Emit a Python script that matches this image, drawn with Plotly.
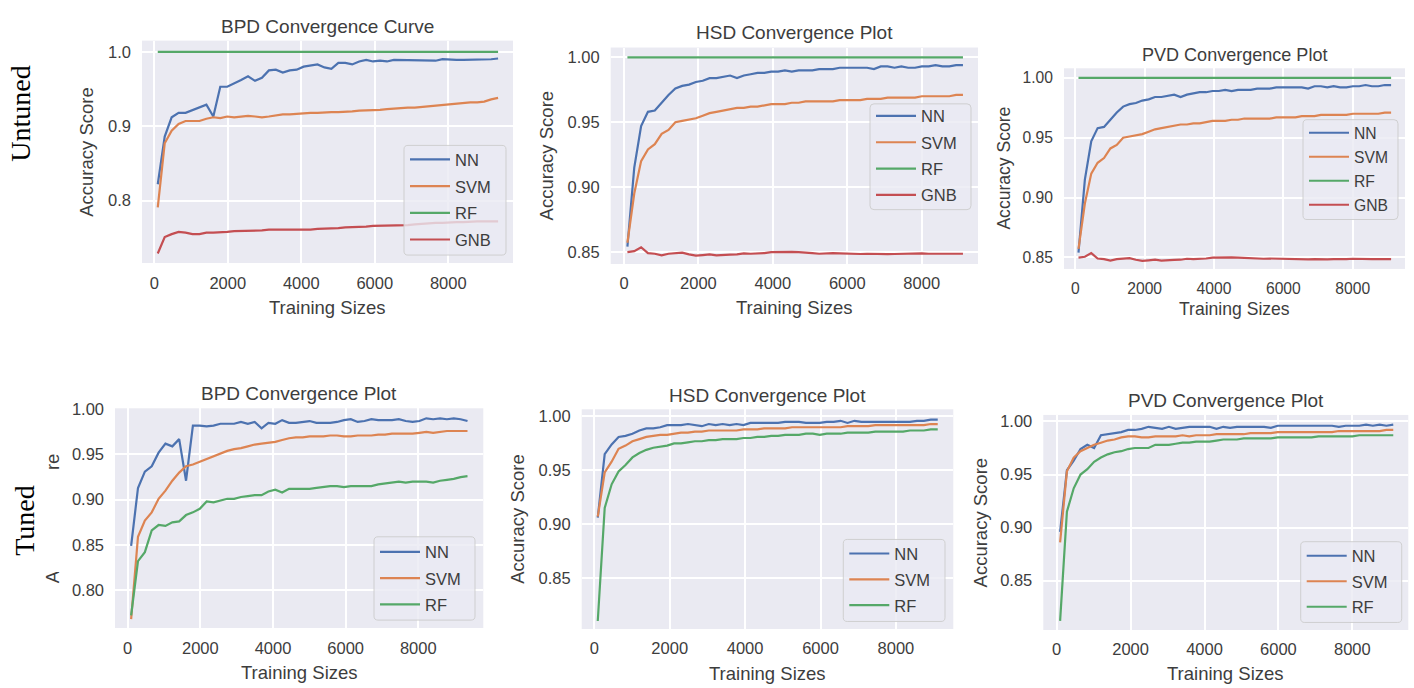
import plotly.graph_objects as go

W, H = 1414, 688

# ---------------- data ----------------
bpd_sizes = [94, 283, 472, 661, 850, 1039, 1228, 1417, 1606, 1795,
             1984, 2173, 2362, 2551, 2740, 2929, 3118, 3307, 3496, 3685,
             3874, 4063, 4252, 4441, 4630, 4819, 5008, 5197, 5386, 5575,
             5764, 5953, 6142, 6331, 6520, 6709, 6898, 7087, 7276, 7465,
             7654, 7843, 8032, 8221, 8410, 8599, 8788, 8977, 9166, 9355]

hsd_sizes = [92, 276, 460, 644, 828, 1012, 1196, 1380, 1564, 1748,
             1932, 2116, 2300, 2484, 2668, 2852, 3036, 3220, 3404, 3588,
             3772, 3956, 4140, 4324, 4508, 4692, 4876, 5060, 5244, 5428,
             5612, 5796, 5980, 6164, 6348, 6532, 6716, 6900, 7084, 7268,
             7452, 7636, 7820, 8004, 8188, 8372, 8556, 8740, 8924, 9108]

# Untuned BPD
bpd_nn = [0.822, 0.886, 0.912, 0.918, 0.918, 0.922, 0.925, 0.929, 0.913, 0.953,
          0.953, 0.957, 0.962, 0.967, 0.961, 0.965, 0.975, 0.976, 0.972, 0.975,
          0.976, 0.980, 0.982, 0.983, 0.979, 0.977, 0.985, 0.985, 0.983, 0.987,
          0.989, 0.987, 0.988, 0.987, 0.989, 0.989, 0.989, 0.989, 0.988, 0.988,
          0.988, 0.990, 0.989, 0.989, 0.989, 0.989, 0.989, 0.990, 0.990, 0.991]
bpd_svm = [0.791, 0.877, 0.894, 0.903, 0.907, 0.907, 0.907, 0.910, 0.912, 0.911,
           0.913, 0.912, 0.913, 0.914, 0.913, 0.912, 0.913, 0.915, 0.916, 0.916,
           0.917, 0.917, 0.918, 0.918, 0.919, 0.919, 0.919, 0.920, 0.920, 0.921,
           0.921, 0.922, 0.922, 0.923, 0.924, 0.924, 0.925, 0.925, 0.926, 0.927,
           0.928, 0.929, 0.930, 0.930, 0.931, 0.932, 0.932, 0.933, 0.936, 0.938]
bpd_rf = [1.0, 1.0, 1.0, 1.0, 1.0, 1.0, 1.0, 1.0, 1.0, 1.0,
          1.0, 1.0, 1.0, 1.0, 1.0, 1.0, 1.0, 1.0, 1.0, 1.0,
          1.0, 1.0, 1.0, 1.0, 1.0, 1.0, 1.0, 1.0, 1.0, 1.0,
          1.0, 1.0, 1.0, 1.0, 1.0, 1.0, 1.0, 1.0, 1.0, 1.0,
          1.0, 1.0, 1.0, 1.0, 1.0, 1.0, 1.0, 1.0, 1.0, 1.0]
bpd_gnb = [0.729, 0.751, 0.755, 0.758, 0.757, 0.755, 0.755, 0.757, 0.757, 0.758,
           0.758, 0.759, 0.759, 0.760, 0.760, 0.760, 0.761, 0.761, 0.760, 0.761,
           0.760, 0.760, 0.761, 0.762, 0.762, 0.763, 0.763, 0.764, 0.764, 0.765,
           0.765, 0.766, 0.766, 0.766, 0.767, 0.767, 0.767, 0.768, 0.769, 0.769,
           0.770, 0.770, 0.771, 0.771, 0.771, 0.772, 0.772, 0.772, 0.772, 0.772]

# Untuned HSD / PVD (identical runs)
hsd_nn = [0.854, 0.915, 0.947, 0.958, 0.959, 0.965, 0.971, 0.976, 0.978, 0.979,
          0.981, 0.982, 0.984, 0.984, 0.985, 0.986, 0.984, 0.986, 0.987, 0.988,
          0.988, 0.989, 0.989, 0.990, 0.989, 0.990, 0.990, 0.990, 0.991, 0.991,
          0.991, 0.992, 0.992, 0.992, 0.992, 0.992, 0.991, 0.993, 0.993, 0.992,
          0.993, 0.992, 0.992, 0.993, 0.993, 0.994, 0.993, 0.993, 0.994, 0.994]
hsd_svm = [0.857, 0.895, 0.920, 0.929, 0.933, 0.941, 0.944, 0.950, 0.951, 0.952,
           0.953, 0.955, 0.957, 0.958, 0.959, 0.960, 0.961, 0.961, 0.962, 0.962,
           0.963, 0.964, 0.964, 0.964, 0.965, 0.965, 0.966, 0.966, 0.966, 0.966,
           0.966, 0.967, 0.967, 0.967, 0.967, 0.968, 0.968, 0.968, 0.969, 0.969,
           0.969, 0.969, 0.969, 0.970, 0.970, 0.970, 0.970, 0.970, 0.971, 0.971]
hsd_rf = [1.0, 1.0, 1.0, 1.0, 1.0, 1.0, 1.0, 1.0, 1.0, 1.0,
          1.0, 1.0, 1.0, 1.0, 1.0, 1.0, 1.0, 1.0, 1.0, 1.0,
          1.0, 1.0, 1.0, 1.0, 1.0, 1.0, 1.0, 1.0, 1.0, 1.0,
          1.0, 1.0, 1.0, 1.0, 1.0, 1.0, 1.0, 1.0, 1.0, 1.0,
          1.0, 1.0, 1.0, 1.0, 1.0, 1.0, 1.0, 1.0, 1.0, 1.0]
hsd_gnb = [0.8498, 0.8505, 0.8535, 0.8490, 0.8485, 0.8473, 0.8485, 0.8490, 0.8493, 0.8480,
           0.8470, 0.8475, 0.8480, 0.8473, 0.8473, 0.8478, 0.8480, 0.8488, 0.8485, 0.8485,
           0.8490, 0.8498, 0.8500, 0.8497, 0.8500, 0.8497, 0.8495, 0.8490, 0.8485, 0.8488,
           0.8490, 0.8488, 0.8485, 0.8485, 0.8483, 0.8485, 0.8483, 0.8485, 0.8482, 0.8483,
           0.8485, 0.8483, 0.8485, 0.8488, 0.8485, 0.8483, 0.8485, 0.8485, 0.8485, 0.8485]

# Tuned BPD
bpd_t_nn = [0.849, 0.913, 0.931, 0.937, 0.952, 0.962, 0.959, 0.967, 0.921, 0.982,
            0.982, 0.981, 0.982, 0.984, 0.984, 0.984, 0.986, 0.984, 0.986, 0.979,
            0.985, 0.984, 0.988, 0.985, 0.985, 0.986, 0.987, 0.985, 0.985, 0.985,
            0.986, 0.988, 0.989, 0.986, 0.987, 0.989, 0.988, 0.988, 0.988, 0.989,
            0.987, 0.986, 0.987, 0.990, 0.989, 0.990, 0.989, 0.990, 0.989, 0.987]
bpd_t_svm = [0.768, 0.859, 0.877, 0.886, 0.901, 0.910, 0.921, 0.930, 0.937, 0.939,
             0.942, 0.945, 0.948, 0.951, 0.954, 0.956, 0.957, 0.959, 0.961, 0.962,
             0.963, 0.964, 0.966, 0.968, 0.969, 0.969, 0.970, 0.970, 0.970, 0.971,
             0.971, 0.970, 0.970, 0.971, 0.971, 0.971, 0.972, 0.972, 0.973, 0.973,
             0.973, 0.973, 0.974, 0.975, 0.974, 0.975, 0.976, 0.976, 0.976, 0.976]
bpd_t_rf = [0.772, 0.832, 0.842, 0.866, 0.872, 0.871, 0.875, 0.876, 0.883, 0.886,
            0.890, 0.898, 0.897, 0.899, 0.901, 0.901, 0.903, 0.904, 0.905, 0.905,
            0.909, 0.911, 0.908, 0.912, 0.912, 0.912, 0.912, 0.913, 0.914, 0.915,
            0.915, 0.914, 0.915, 0.915, 0.915, 0.915, 0.917, 0.918, 0.919, 0.920,
            0.919, 0.920, 0.920, 0.920, 0.919, 0.921, 0.922, 0.923, 0.925, 0.926]

# Tuned HSD
hsd_t_nn = [0.906, 0.965, 0.974, 0.981, 0.982, 0.984, 0.987, 0.989, 0.989, 0.990,
            0.992, 0.992, 0.992, 0.993, 0.992, 0.991, 0.993, 0.992, 0.993, 0.992,
            0.993, 0.992, 0.994, 0.994, 0.994, 0.994, 0.994, 0.995, 0.995, 0.995,
            0.994, 0.994, 0.994, 0.995, 0.995, 0.996, 0.994, 0.996, 0.995, 0.995,
            0.995, 0.995, 0.995, 0.995, 0.995, 0.995, 0.996, 0.996, 0.997, 0.997]
hsd_t_svm = [0.907, 0.948, 0.958, 0.970, 0.973, 0.977, 0.979, 0.981, 0.982, 0.983,
             0.983, 0.984, 0.985, 0.985, 0.986, 0.986, 0.987, 0.987, 0.987, 0.987,
             0.987, 0.988, 0.988, 0.988, 0.989, 0.989, 0.989, 0.989, 0.990, 0.990,
             0.990, 0.990, 0.990, 0.990, 0.990, 0.990, 0.991, 0.991, 0.991, 0.991,
             0.992, 0.992, 0.992, 0.992, 0.992, 0.992, 0.992, 0.992, 0.993, 0.993]
hsd_t_rf = [0.810, 0.915, 0.937, 0.949, 0.955, 0.962, 0.966, 0.969, 0.971, 0.972,
            0.973, 0.975, 0.975, 0.976, 0.977, 0.977, 0.978, 0.978, 0.979, 0.979,
            0.979, 0.980, 0.980, 0.981, 0.981, 0.982, 0.982, 0.983, 0.983, 0.983,
            0.984, 0.984, 0.983, 0.984, 0.984, 0.984, 0.985, 0.985, 0.985, 0.985,
            0.986, 0.986, 0.986, 0.986, 0.986, 0.987, 0.987, 0.987, 0.988, 0.988]

# Tuned PVD
pvd_t_nn = [0.896, 0.954, 0.963, 0.974, 0.978, 0.975, 0.987, 0.988, 0.989, 0.990,
            0.992, 0.992, 0.993, 0.995, 0.994, 0.993, 0.995, 0.993, 0.994, 0.995,
            0.995, 0.995, 0.995, 0.993, 0.995, 0.994, 0.995, 0.995, 0.995, 0.995,
            0.995, 0.994, 0.996, 0.996, 0.996, 0.996, 0.996, 0.996, 0.996, 0.996,
            0.996, 0.995, 0.996, 0.996, 0.996, 0.997, 0.996, 0.997, 0.996, 0.997]
pvd_t_svm = [0.886, 0.953, 0.966, 0.972, 0.975, 0.978, 0.980, 0.982, 0.983, 0.985,
             0.986, 0.986, 0.985, 0.985, 0.986, 0.986, 0.986, 0.986, 0.987, 0.986,
             0.987, 0.987, 0.987, 0.988, 0.988, 0.988, 0.988, 0.988, 0.989, 0.989,
             0.989, 0.989, 0.990, 0.990, 0.990, 0.990, 0.990, 0.990, 0.990, 0.990,
             0.990, 0.991, 0.991, 0.991, 0.991, 0.991, 0.991, 0.991, 0.992, 0.992]
pvd_t_rf = [0.812, 0.915, 0.937, 0.950, 0.955, 0.962, 0.966, 0.969, 0.971, 0.972,
            0.974, 0.975, 0.975, 0.975, 0.978, 0.978, 0.978, 0.979, 0.980, 0.980,
            0.981, 0.981, 0.981, 0.982, 0.983, 0.983, 0.983, 0.984, 0.984, 0.984,
            0.984, 0.984, 0.985, 0.985, 0.985, 0.985, 0.985, 0.985, 0.986, 0.986,
            0.986, 0.986, 0.986, 0.986, 0.987, 0.987, 0.987, 0.987, 0.987, 0.987]

titles = ["BPD Convergence Curve", "HSD Convergence Plot", "PVD Convergence Plot",
          "BPD Convergence Plot", "HSD Convergence Plot", "PVD Convergence Plot"]
model_names = ["NN", "SVM", "RF", "GNB"]
x_ticks = [0, 2000, 4000, 6000, 8000]

# ---------------- styling ----------------
COLORS = {"NN": "#4C72B0", "SVM": "#DD8452", "RF": "#55A868", "GNB": "#C44E52"}
BG = "#EAEAF2"
TXT = "#3d3d3d"
SANS = "Liberation Sans, Arial, sans-serif"
SERIF = "Liberation Serif, Times New Roman, serif"

TITLE_FS, LABEL_FS, TICK_FS, LEG_FS = 19, 18.5, 16.5, 16.5


def px(x):
    return x / W


def py(y):
    return 1 - y / H


# plot-area rectangles (pixels) and axis settings per panel
panels = [
    dict(box=(142, 33, 513, 258), xr=(-335, 9761), yr=(0.7162, 1.015), dt=0.1, fmt=".1f",
         sizes=bpd_sizes, series=[bpd_nn, bpd_svm, bpd_rf, bpd_gnb],
         title_y=19, xt_y=303, yt_x=87, fs=1.0,
         leg=(404, 139, 506, 250, 153, 26.7)),
    dict(box=(610.7, 40, 978, 259), xr=(-357, 9512), yr=(0.8406, 1.0076), dt=0.05, fmt=".2f",
         sizes=hsd_sizes, series=[hsd_nn, hsd_svm, hsd_rf, hsd_gnb],
         title_y=25, xt_y=303, yt_x=546.7, fs=1.0,
         leg=(870, 97, 971, 204, 109, 26.3)),
    dict(box=(1064, 61, 1405, 264), xr=(-326, 9509), yr=(0.8403, 1.008), dt=0.05, fmt=".2f",
         sizes=hsd_sizes, series=[hsd_nn, hsd_svm, hsd_rf, hsd_gnb],
         title_y=48, xt_y=305, yt_x=1004, fs=0.95,
         leg=(1303, 113, 1398, 214, 126, 24.0)),
    dict(box=(115, 405, 483.3, 627.3), xr=(-350, 9790), yr=(0.7581, 1.0011), dt=0.05, fmt=".2f",
         sizes=bpd_sizes, series=[bpd_t_nn, bpd_t_svm, bpd_t_rf],
         title_y=390, xt_y=672, yt_x=52, fs=1.0,
         leg=(374, 535, 475, 619.3, 550, 26.3)),
    dict(box=(581.7, 406, 953.3, 628.3), xr=(-334, 9521), yr=(0.8026, 1.0067), dt=0.05, fmt=".2f",
         sizes=hsd_sizes, series=[hsd_t_nn, hsd_t_svm, hsd_t_rf],
         title_y=391.7, xt_y=673, yt_x=516.7, fs=1.0,
         leg=(843.3, 537.7, 945, 620.7, 551.7, 25.8)),
    dict(box=(1043.3, 411.7, 1408.3, 629.3), xr=(-363, 9515), yr=(0.8034, 1.0062), dt=0.05, fmt=".2f",
         sizes=hsd_sizes, series=[pvd_t_nn, pvd_t_svm, pvd_t_rf],
         title_y=396.7, xt_y=673.3, yt_x=980, fs=1.0,
         leg=(1300.7, 540, 1401.7, 621.7, 554, 25.5)),
]


def rounded_box(x0, y0, x1, y1, r=4):
    pts = [
        ("M", [(x0 + r, y0)]), ("L", [(x1 - r, y0)]), ("Q", [(x1, y0), (x1, y0 + r)]),
        ("L", [(x1, y1 - r)]), ("Q", [(x1, y1), (x1 - r, y1)]),
        ("L", [(x0 + r, y1)]), ("Q", [(x0, y1), (x0, y1 - r)]),
        ("L", [(x0, y0 + r)]), ("Q", [(x0, y0), (x0 + r, y0)]),
    ]
    out = []
    for cmd, coords in pts:
        out.append(cmd + " ".join(f"{px(a):.5f},{py(b):.5f}" for a, b in coords))
    return " ".join(out) + " Z"


fig = go.Figure()
layout = dict(
    width=W, height=H, margin=dict(l=0, r=0, t=0, b=0),
    paper_bgcolor="white", plot_bgcolor=BG,
    font=dict(family=SANS, color=TXT), showlegend=True,
)
annotations = []
shapes = []

for i, p in enumerate(panels, start=1):
    sfx = "" if i == 1 else str(i)
    x0, y0, x1, y1 = p["box"]
    fs = p["fs"]
    leg_name = "legend" if i == 1 else f"legend{i}"
    for name, vals in zip(model_names, p["series"]):
        fig.add_trace(go.Scatter(
            x=p["sizes"], y=vals, mode="lines", name=name,
            line=dict(color=COLORS[name], width=2.2),
            xaxis=f"x{sfx}", yaxis=f"y{sfx}", legend=leg_name,
            legendgroup=f"p{i}-{name}",
        ))
    layout[f"xaxis{sfx}"] = dict(
        domain=[px(x0), px(x1)], anchor=f"y{sfx}", range=list(p["xr"]),
        tickvals=x_ticks, showgrid=True, gridcolor="white", gridwidth=1.5,
        zeroline=False, showline=False, ticks="",
        tickfont=dict(size=TICK_FS * fs, color=TXT), ticklabelstandoff=8,
    )
    layout[f"yaxis{sfx}"] = dict(
        domain=[py(y1), py(y0)], anchor=f"x{sfx}", range=list(p["yr"]),
        dtick=p["dt"], tick0=0, tickformat=p["fmt"], showgrid=True,
        gridcolor="white", gridwidth=1.5, zeroline=False, showline=False, ticks="",
        tickfont=dict(size=TICK_FS * fs, color=TXT), ticklabelstandoff=10,
    )
    cx = (x0 + x1) / 2
    annotations.append(dict(text=titles[i - 1], x=px(cx), y=py(p["title_y"]),
                            xref="paper", yref="paper", showarrow=False,
                            xanchor="center", yanchor="middle",
                            font=dict(size=TITLE_FS * fs, color=TXT)))
    annotations.append(dict(text="Training Sizes", x=px(cx), y=py(p["xt_y"]),
                            xref="paper", yref="paper", showarrow=False,
                            xanchor="center", yanchor="middle",
                            font=dict(size=LABEL_FS * fs, color=TXT)))
    annotations.append(dict(text="Accuracy Score", x=px(p["yt_x"]), y=py((y0 + y1) / 2),
                            xref="paper", yref="paper", showarrow=False, textangle=-90,
                            xanchor="center", yanchor="middle",
                            font=dict(size=LABEL_FS * fs, color=TXT)))
    # legend frame + entries
    lx0, ly0, lx1, ly1, first_y, step = p["leg"]
    shapes.append(dict(type="path", path=rounded_box(lx0, ly0, lx1, ly1),
                       xref="paper", yref="paper", layer="above",
                       fillcolor="rgba(234,234,242,0.8)",
                       line=dict(color="rgba(204,204,204,0.9)", width=1)))
    lfs = LEG_FS * fs
    item_h = max(lfs * 1.3, 16) + 3
    layout[leg_name] = dict(
        x=px(lx0 + 1), y=py(first_y - item_h / 2 - 5), xanchor="left", yanchor="top",
        bgcolor="rgba(0,0,0,0)", borderwidth=0, itemwidth=40,
        font=dict(size=lfs, color=TXT), tracegroupgap=max(0, step - item_h),
    )

# Row labels (the "Tuned" box sits on a white background over the left margin)
annotations.append(dict(text="Untuned", x=px(21), y=py(107), xref="paper", yref="paper",
                        showarrow=False, textangle=-90, xanchor="center", yanchor="middle",
                        font=dict(family=SERIF, size=28, color="black")))
annotations.append(dict(text="Tuned", x=px(25), y=py(518.5), xref="paper", yref="paper",
                        showarrow=False, textangle=-90, xanchor="center", yanchor="middle",
                        width=100, height=80, bgcolor="white",
                        font=dict(family=SERIF, size=28, color="black")))

layout["annotations"] = annotations
layout["shapes"] = shapes
fig.update_layout(**layout)
fig.write_html("out.html")
